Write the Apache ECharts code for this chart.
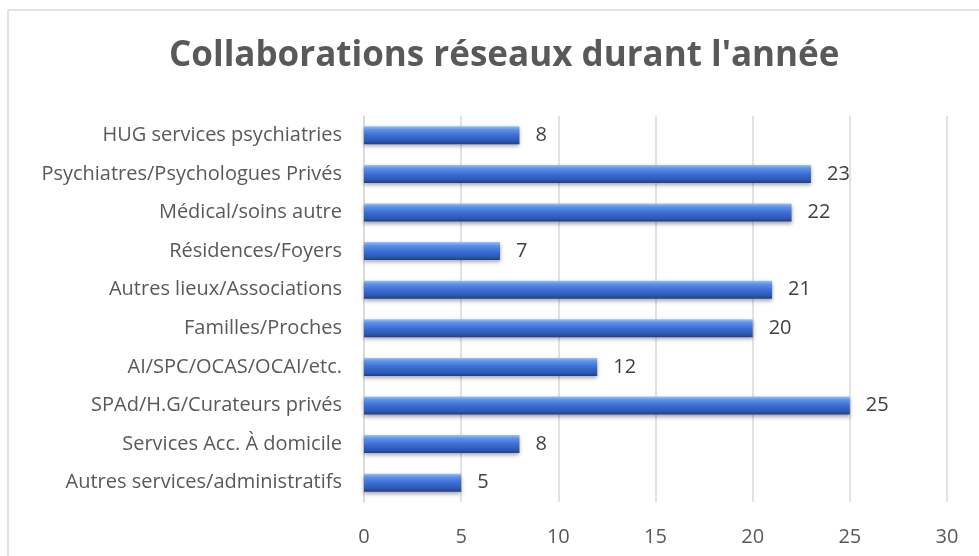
<!DOCTYPE html>
<html>
<head>
<meta charset="utf-8">
<script src="https://cdn.jsdelivr.net/npm/echarts@6/dist/echarts.min.js"></script>
<style>
  html, body { margin: 0; padding: 0; background: #fff; }
  #chart { width: 979px; height: 556px; }
</style>
</head>
<body>
<div id="chart"></div>
<script>
// catégories, de bas en haut
const categories = [
  'Autres services/administratifs',
  'Services Acc. À domicile',
  'SPAd/H.G/Curateurs privés',
  'AI/SPC/OCAS/OCAI/etc.',
  'Familles/Proches',
  'Autres lieux/Associations',
  'Résidences/Foyers',
  'Médical/soins autre',
  'Psychiatres/Psychologues Privés',
  'HUG services psychiatries'
];
const valeurs = [5, 8, 25, 12, 20, 21, 7, 22, 23, 8];
const ticks = [0, 5, 10, 15, 20, 25, 30];

const police = 'Open Sans, Noto Sans, sans-serif';
const chart = echarts.init(document.getElementById('chart'));

chart.setOption({
  backgroundColor: '#ffffff',
  animation: false,
  graphic: [{
    type: 'rect',
    shape: { x: 8, y: 10, width: 1000, height: 600 },
    style: { fill: 'none', stroke: '#d9d9d9', lineWidth: 1.5 },
    z: -1
  }],
  title: {
    text: "Collaborations réseaux durant l'année",
    left: 164,
    top: 34,
    textStyle: { fontFamily: police, fontSize: 35, fontWeight: 'bold', color: '#595959' }
  },
  grid: { left: 364, right: 32, top: 116, bottom: 54 },
  xAxis: {
    type: 'value',
    min: ticks[0],
    max: ticks[ticks.length - 1],
    interval: 5,
    axisLine: { show: false },
    axisTick: { show: false },
    splitLine: { lineStyle: { color: '#d9d9d9', width: 1.5 } },
    axisLabel: { fontFamily: police, fontSize: 20, color: '#595959', margin: 25 }
  },
  yAxis: {
    type: 'category',
    data: categories,
    axisLine: { show: true, lineStyle: { color: '#d9d9d9', width: 1.5 } },
    axisTick: { show: false },
    axisLabel: { fontFamily: police, fontSize: 20, color: '#595959', margin: 22 }
  },
  series: [{
    type: 'bar',
    data: valeurs,
    barWidth: 18,
    itemStyle: {
      color: new echarts.graphic.LinearGradient(0, 0, 0, 1, [
        { offset: 0, color: '#9cc0fa' },
        { offset: 0.18, color: '#5f92ea' },
        { offset: 0.5, color: '#3d6ed3' },
        { offset: 0.82, color: '#2e58b3' },
        { offset: 1, color: '#1f3f86' }
      ]),
      shadowColor: 'rgba(0,0,0,0.35)',
      shadowBlur: 4,
      shadowOffsetY: 2
    },
    label: {
      show: true,
      position: 'right',
      distance: 16,
      fontFamily: police,
      fontSize: 20,
      color: '#404040'
    }
  }]
});
</script>
</body>
</html>
